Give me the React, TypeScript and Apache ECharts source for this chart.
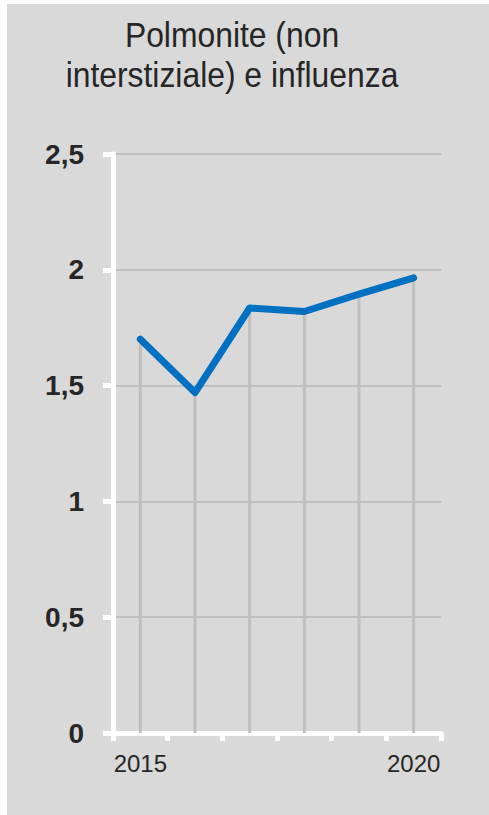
import React, { useEffect, useRef } from "react";
import * as echarts from "echarts";

const titleText = "Polmonite (non\ninterstiziale) e influenza";
const years = ["2015", "2016", "2017", "2018", "2019", "2020"];
const values = [1.7, 1.47, 1.835, 1.82, 1.895, 1.965];
const shownYears = ["2015", "2020"];

const FONT = "'Liberation Sans Narrow', 'Arial Narrow', 'Liberation Sans', Arial, sans-serif";

export default function App() {
  const ref = useRef<HTMLDivElement>(null);
  useEffect(() => {
    document.body.style.margin = "0";
    const chart = echarts.init(ref.current!, null, { renderer: "svg" });
    chart.setOption({
      animation: false,
      backgroundColor: "#d9d9d9",
      graphic: [
        {
          type: "text",
          x: 225,
          y: 11,
          scaleX: 0.91,
          scaleY: 1,
          style: {
            text: titleText,
            align: "center",
            verticalAlign: "top",
            font: "normal 35px " + FONT,
            lineHeight: 40,
            fill: "#262626",
          },
        },
      ],
      grid: { left: 106, right: 48, top: 150, bottom: 82, containLabel: false },
      xAxis: {
        type: "category",
        data: years,
        boundaryGap: true,
        axisLine: { show: true, lineStyle: { color: "#ffffff", width: 5 } },
        axisTick: { show: true, length: 8, lineStyle: { color: "#ffffff", width: 5 } },
        axisLabel: {
          interval: 0,
          formatter: (v: string) => (shownYears.includes(v) ? v : ""),
          fontFamily: FONT,
          fontSize: 24,
          color: "#262626",
          margin: 18,
        },
        splitLine: { show: false },
      },
      yAxis: {
        type: "value",
        min: 0,
        max: 2.5,
        interval: 0.5,
        axisLine: { show: true, lineStyle: { color: "#ffffff", width: 5 } },
        axisTick: { show: true, length: 10, lineStyle: { color: "#ffffff", width: 5 } },
        axisLabel: {
          formatter: (v: number) => String(v).replace(".", ","),
          fontFamily: FONT,
          fontSize: 28,
          fontWeight: "bold",
          color: "#262626",
          margin: 29,
        },
        splitLine: { show: true, lineStyle: { color: "#bfbfbf", width: 2 } },
      },
      series: [
        {
          type: "bar",
          data: values,
          barWidth: 3,
          itemStyle: { color: "#bfbfbf" },
          z: 1,
        },
        {
          type: "line",
          data: values,
          symbol: "none",
          lineStyle: { color: "#0070c0", width: 7, cap: "round", join: "round" },
          z: 3,
        },
      ],
    });
    return () => chart.dispose();
  }, []);
  return (
    <div style={{ position: "absolute", left: 0, top: 0, width: 489, height: 815, background: "#ffffff" }}>
      <div ref={ref} style={{ position: "absolute", left: 7, top: 4, width: 482, height: 811 }} />
    </div>
  );
}
